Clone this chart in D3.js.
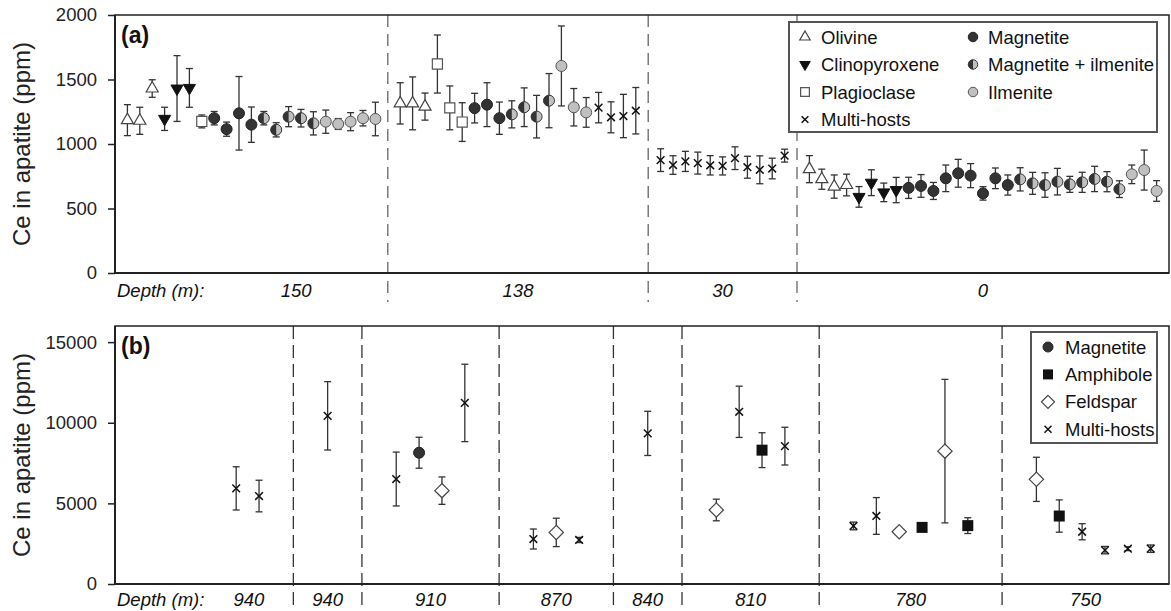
<!DOCTYPE html>
<html lang="en">
<head>
<meta charset="UTF-8">
<title>Ce in apatite</title>
<script src="https://d3js.org/d3.v7.min.js"></script>
<style>
  body { margin: 0; background: #fff; }
  svg { display: block; font-family: "Liberation Sans", Arial, sans-serif; }
</style>
</head>
<body>
<svg id="chart" width="1171" height="611"></svg>
<script>
// ---------- panel (a) ----------
// host codes: ol olivine, cpx clinopyroxene, pl plagioclase, mt magnetite,
// mtilm magnetite + ilmenite, ilm ilmenite, multi multi-hosts
const aDepths = ["150", "138", "30", "0"];
const aHosts = [
  ["ol","ol","ol","cpx","cpx","cpx","pl","mt","mt","mt","mt","mtilm","mtilm","mtilm","mtilm","mtilm","ilm","ilm","ilm","ilm","ilm"],
  ["ol","ol","ol","pl","pl","pl","mt","mt","mt","mtilm","mtilm","mtilm","mtilm","ilm","ilm","ilm","multi","multi","multi","multi"],
  ["multi","multi","multi","multi","multi","multi","multi","multi","multi","multi","multi"],
  ["ol","ol","ol","ol","cpx","cpx","cpx","cpx","mt","mt","mt","mt","mt","mt","mt","mt","mt",
   "mtilm","mtilm","mtilm","mtilm","mtilm","mtilm","mtilm","mtilm","mtilm","ilm","ilm","ilm"]
];
const aCe = [
  [1185,1180,1430,1195,1430,1435,1175,1200,1115,1238,1150,1200,1110,1212,1200,1160,1173,1155,1173,1200,1194],
  [1315,1315,1290,1620,1280,1170,1278,1305,1200,1230,1285,1212,1336,1605,1285,1245,1282,1207,1217,1258],
  [875,837,865,852,835,830,890,820,800,810,910],
  [805,727,670,682,590,700,625,643,660,675,636,734,773,755,617,734,682,
   726,695,682,708,687,703,729,708,650,765,798,636]
];
const aErr = [
  [120,105,68,90,255,150,50,52,55,285,137,52,55,78,68,90,90,42,70,60,130],
  [160,205,105,225,170,150,115,170,125,105,150,165,210,310,145,115,118,120,168,180],
  [88,72,78,85,75,70,88,85,108,80,50],
  [105,78,90,84,80,100,72,98,82,88,66,103,108,93,52,80,78,
   90,85,95,103,62,78,98,78,65,72,155,80]
];
const aTicks = [0, 500, 1000, 1500, 2000];
const aLegend = [
  ["ol", "Olivine"], ["cpx", "Clinopyroxene"], ["pl", "Plagioclase"], ["multi", "Multi-hosts"],
  ["mt", "Magnetite"], ["mtilm", "Magnetite + ilmenite"], ["ilm", "Ilmenite"]
];

// ---------- panel (b) ----------
const bDepths = ["940", "940", "910", "870", "840", "810", "780", "750"];
const bHosts = [
  ["multi","multi"],
  ["multi"],
  ["multi","mt","fsp","multi"],
  ["multi","fsp","multi"],
  ["multi"],
  ["fsp","multi","amp","multi"],
  ["multi","multi","fsp","amp","fsp","amp"],
  ["fsp","amp","multi","multi","multi","multi"]
];
const bCe = [
  [5930,5455],
  [10430],
  [6510,8140,5790,11230],
  [2790,3200,2730],
  [9340],
  [4590,10680,8300,8550],
  [3600,4220,3240,3510,8240,3620],
  [6490,4215,3240,2100,2190,2190]
];
const bErr = [
  [1340,980],
  [2120],
  [1670,960,850,2400],
  [620,880,160],
  [1370],
  [670,1590,1080,1170],
  [240,1140,0,0,4450,490],
  [1370,1000,500,230,120,230]
];
const bTicks = [0, 5000, 10000, 15000];
const bLegend = [["mt", "Magnetite"], ["amp", "Amphibole"], ["fsp", "Feldspar"], ["multi", "Multi-hosts"]];

// ---------- drawing helpers ----------
const svg = d3.select("#chart");
const left = 115, right = 1169;
const FONT = 18.5;

function shape(type, s) {
  const h = s * 0.866;
  switch (type) {
    case "up": return `M0,${-2*h/3}L${s/2},${h/3}L${-s/2},${h/3}Z`;
    case "down": return `M0,${2*h/3}L${s/2},${-h/3}L${-s/2},${-h/3}Z`;
    case "sq": return `M${-s/2},${-s/2}H${s/2}V${s/2}H${-s/2}Z`;
    case "dia": return `M0,${-s/2}L${s/2},0L0,${s/2}L${-s/2},0Z`;
    case "x": return `M${-s/2},${-s/2}L${s/2},${s/2}M${-s/2},${s/2}L${s/2},${-s/2}`;
    default: return `M${-s/2},0A${s/2},${s/2} 0 1 0 ${s/2},0A${s/2},${s/2} 0 1 0 ${-s/2},0Z`;
  }
}

function marker(g, type, s) {
  if (type === "ol") g.append("path").attr("d", shape("up", s * 1.1)).attr("fill", "#fff").attr("stroke", "#444").attr("stroke-width", 1.2);
  else if (type === "cpx") g.append("path").attr("d", shape("down", s * 1.1)).attr("fill", "#111").attr("stroke", "#111");
  else if (type === "pl") g.append("path").attr("d", shape("sq", s * 0.92)).attr("fill", "#fff").attr("stroke", "#555").attr("stroke-width", 1.2);
  else if (type === "mt") g.append("path").attr("d", shape("c", s)).attr("fill", "#333").attr("stroke", "#222").attr("stroke-width", 1);
  else if (type === "ilm") g.append("path").attr("d", shape("c", s)).attr("fill", "#c0c0c0").attr("stroke", "#555").attr("stroke-width", 1);
  else if (type === "mtilm") {
    const r = s / 2;
    g.append("path").attr("d", shape("c", s)).attr("fill", "#c0c0c0");
    g.append("path").attr("d", `M0,${-r}A${r},${r} 0 0 0 0,${r}Z`).attr("fill", "#333");
    g.append("path").attr("d", shape("c", s)).attr("fill", "none").attr("stroke", "#333").attr("stroke-width", 1);
  }
  else if (type === "multi") g.append("path").attr("d", shape("x", s * 0.7)).attr("fill", "none").attr("stroke", "#111").attr("stroke-width", 1.5);
  else if (type === "amp") g.append("path").attr("d", shape("sq", s)).attr("fill", "#111");
  else if (type === "fsp") g.append("path").attr("d", shape("dia", s * 1.3)).attr("fill", "#fff").attr("stroke", "#444").attr("stroke-width", 1.2);
}

function panel(cfg) {
  const { top, bottom, y, ticks, x, points, dividers, depths, tag, dash, dashColor, lineBottom, depthBase } = cfg;
  const g = svg.append("g");

  // dashed depth dividers
  g.selectAll("line.div").data(dividers).join("line")
    .attr("x1", d => x(d)).attr("x2", d => x(d))
    .attr("y1", top).attr("y2", lineBottom)
    .attr("stroke", dashColor).attr("stroke-width", 1.3).attr("stroke-dasharray", dash);

  // frame
  g.append("rect").attr("x", left).attr("y", top).attr("width", right - left).attr("height", bottom - top)
    .attr("fill", "none").attr("stroke", "#222").attr("stroke-width", 1.5);
  g.append("line").attr("x1", left).attr("x2", right).attr("y1", bottom).attr("y2", bottom).attr("stroke", "#222").attr("stroke-width", 2);
  g.append("line").attr("x1", left).attr("x2", left).attr("y1", top).attr("y2", bottom).attr("stroke", "#222").attr("stroke-width", 2);

  // y axis
  const ax = g.append("g").attr("transform", `translate(${left},0)`)
    .call(d3.axisLeft(y).tickValues(ticks).tickFormat(d3.format("d")).tickSize(7).tickPadding(11));
  ax.select(".domain").remove();
  ax.selectAll(".tick line").attr("stroke", "#222").attr("stroke-width", 1.5);
  ax.selectAll(".tick text").attr("font-size", FONT).attr("font-family", "Liberation Sans, Arial").attr("fill", "#222");

  g.append("text").attr("transform", `translate(30,${(top + bottom) / 2}) rotate(-90)`)
    .attr("text-anchor", "middle").attr("font-size", 24).attr("fill", "#222").text("Ce in apatite (ppm)");
  g.append("text").attr("x", 121).attr("y", top + 28).attr("font-size", 23).attr("font-weight", "bold")
    .attr("fill", "#111").text(tag);

  // error bars then markers
  const eb = g.append("g").attr("stroke", "#333").attr("stroke-width", 1.3);
  points.filter(p => p.err > 0).forEach(p => {
    const cx = x(p.k), y1 = y(p.v + p.err), y2 = y(p.v - p.err);
    eb.append("line").attr("x1", cx).attr("x2", cx).attr("y1", y1).attr("y2", y2);
    eb.append("line").attr("x1", cx - 3.5).attr("x2", cx + 3.5).attr("y1", y1).attr("y2", y1);
    eb.append("line").attr("x1", cx - 3.5).attr("x2", cx + 3.5).attr("y1", y2).attr("y2", y2);
  });
  points.forEach(p => {
    const m = g.append("g").attr("transform", `translate(${x(p.k)},${y(p.v)})`);
    marker(m, p.host, cfg.msize);
  });

  // depth row
  const lab = g.append("text").attr("x", 117).attr("y", depthBase).attr("font-size", FONT)
    .attr("font-style", "italic").attr("fill", "#111").text("Depth (m):");
  const labEnd = 117 + lab.node().getComputedTextLength();
  const edges = [labEnd].concat(dividers.map(d => x(d))).concat([right]);
  g.selectAll("text.depth").data(depths).join("text")
    .attr("x", (d, i) => (edges[i] + edges[i + 1]) / 2).attr("y", depthBase)
    .attr("text-anchor", "middle").attr("font-size", FONT).attr("font-style", "italic")
    .attr("fill", "#111").text(d => d);
  return g;
}

function legendBox(g, items, box, cols, rowH, mx, tx, size) {
  g.append("rect").attr("x", box[0]).attr("y", box[1]).attr("width", box[2]).attr("height", box[3])
    .attr("fill", "#fff").attr("stroke", "#555").attr("stroke-width", 2);
  items.forEach((it, i) => {
    const c = cols.findIndex((n, j) => i < cols.slice(0, j + 1).reduce((a, b) => a + b, 0));
    const row = i - cols.slice(0, c).reduce((a, b) => a + b, 0);
    const cy = box[1] + 15 + row * rowH;
    const m = g.append("g").attr("transform", `translate(${mx[c]},${cy})`);
    marker(m, it[0], size);
    g.append("text").attr("x", tx[c]).attr("y", cy).attr("dy", "0.36em").attr("font-size", FONT)
      .attr("fill", "#111").text(it[1]);
  });
}

// ---------- panel (a) ----------
const aPoints = [], aDiv = [];
let k = 0;
aHosts.forEach((grp, gi) => {
  grp.forEach((h, i) => { k++; aPoints.push({ k, host: h, v: aCe[gi][i], err: aErr[gi][i] }); });
  if (gi < aHosts.length - 1) { k++; aDiv.push(k); }
});
const xa = d3.scaleLinear().domain([0, 85]).range([left, right]);
const ya = d3.scaleLinear().domain([0, 2000]).range([273, 15]);
const ga = panel({ top: 15, bottom: 273, y: ya, ticks: aTicks, x: xa, points: aPoints, dividers: aDiv,
  depths: aDepths, tag: "(a)", dash: "12,7", dashColor: "#666", lineBottom: 302, depthBase: 297, msize: 11 });
legendBox(ga, aLegend, [789, 22, 368, 110], [4, 3], 27.5, [805, 973], [821, 988], 9.5);

// ---------- panel (b) ----------
const bPoints = [], bDiv = [];
k = -1;
bHosts.forEach((grp, gi) => {
  grp.forEach((h, i) => { k++; bPoints.push({ k, host: h, v: bCe[gi][i], err: bErr[gi][i] }); });
  if (gi < bHosts.length - 1) { bDiv.push(k + 1.5); k += 2; }
});
const xb = d3.scaleLinear().domain([-5.3, 40.8]).range([left, right]);
const yb = d3.scaleLinear().domain([0, 16000]).range([584, 326]);
const gb = panel({ top: 326, bottom: 584, y: yb, ticks: bTicks, x: xb, points: bPoints, dividers: bDiv,
  depths: bDepths, tag: "(b)", dash: "13,6", dashColor: "#333", lineBottom: 611, depthBase: 606, msize: 11 });
legendBox(gb, bLegend, [1031, 332, 126, 111], [4], 27.4, [1048], [1065], 10);
</script>
</body>
</html>
